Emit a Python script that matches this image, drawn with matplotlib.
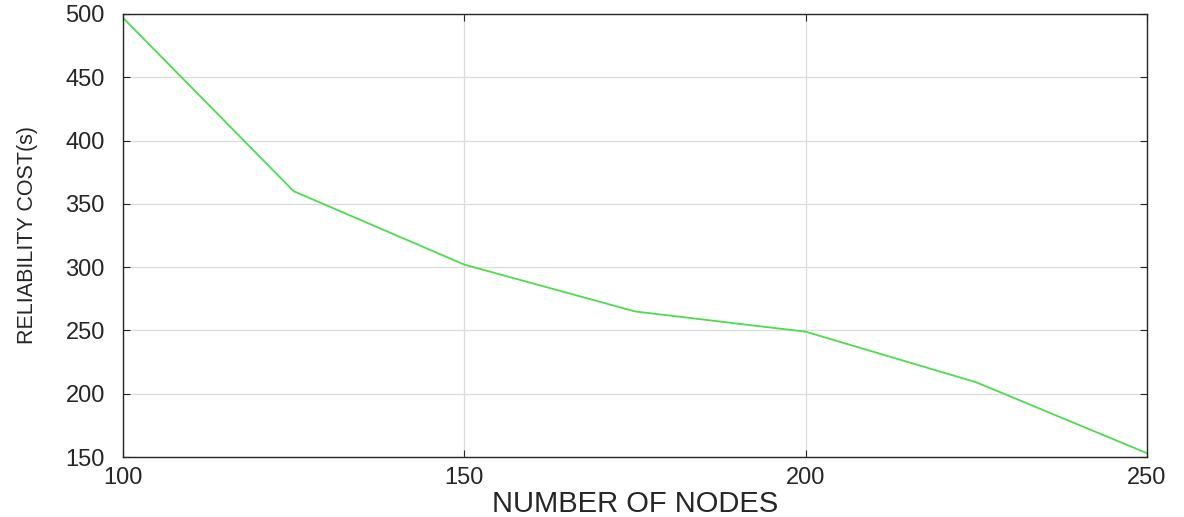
import matplotlib.pyplot as plt

nodes = [100, 125, 150, 175, 200, 225, 250]
cost = [497, 360, 302, 265, 249, 209, 153]
x_ticks = [100, 150, 200, 250]
y_ticks = [150, 200, 250, 300, 350, 400, 450, 500]

plt.rcParams['font.family'] = ['Liberation Sans', 'DejaVu Sans']

fig = plt.figure(figsize=(11.84, 5.17), dpi=100)
ax = fig.add_axes([123 / 1184, 1 - 457 / 517, (1147 - 123) / 1184, (457 - 14) / 517])

ax.plot(nodes, cost, color='#4cdc4c', linewidth=1.3)

ax.set_xlim(100, 250)
ax.set_ylim(150, 500)
ax.set_xticks(x_ticks)
ax.set_yticks(y_ticks)
ax.grid(True, color='#dcdcdc', linewidth=0.9)
ax.set_axisbelow(True)
ax.tick_params(direction='in', length=5, width=0.8, colors='#262626',
               labelsize=17, top=True, right=True)
ax.tick_params(axis='x', pad=7)
ax.tick_params(axis='y', pad=13)
for s in ax.spines.values():
    s.set_color('#262626')
    s.set_linewidth(1.0)

ax.set_xlabel('NUMBER OF NODES', fontsize=21, color='#262626', labelpad=1)
ax.set_ylabel('RELIABILITY COST(s)', fontsize=15.5, color='#262626', labelpad=20)

fig.savefig('out.png', dpi=100)
